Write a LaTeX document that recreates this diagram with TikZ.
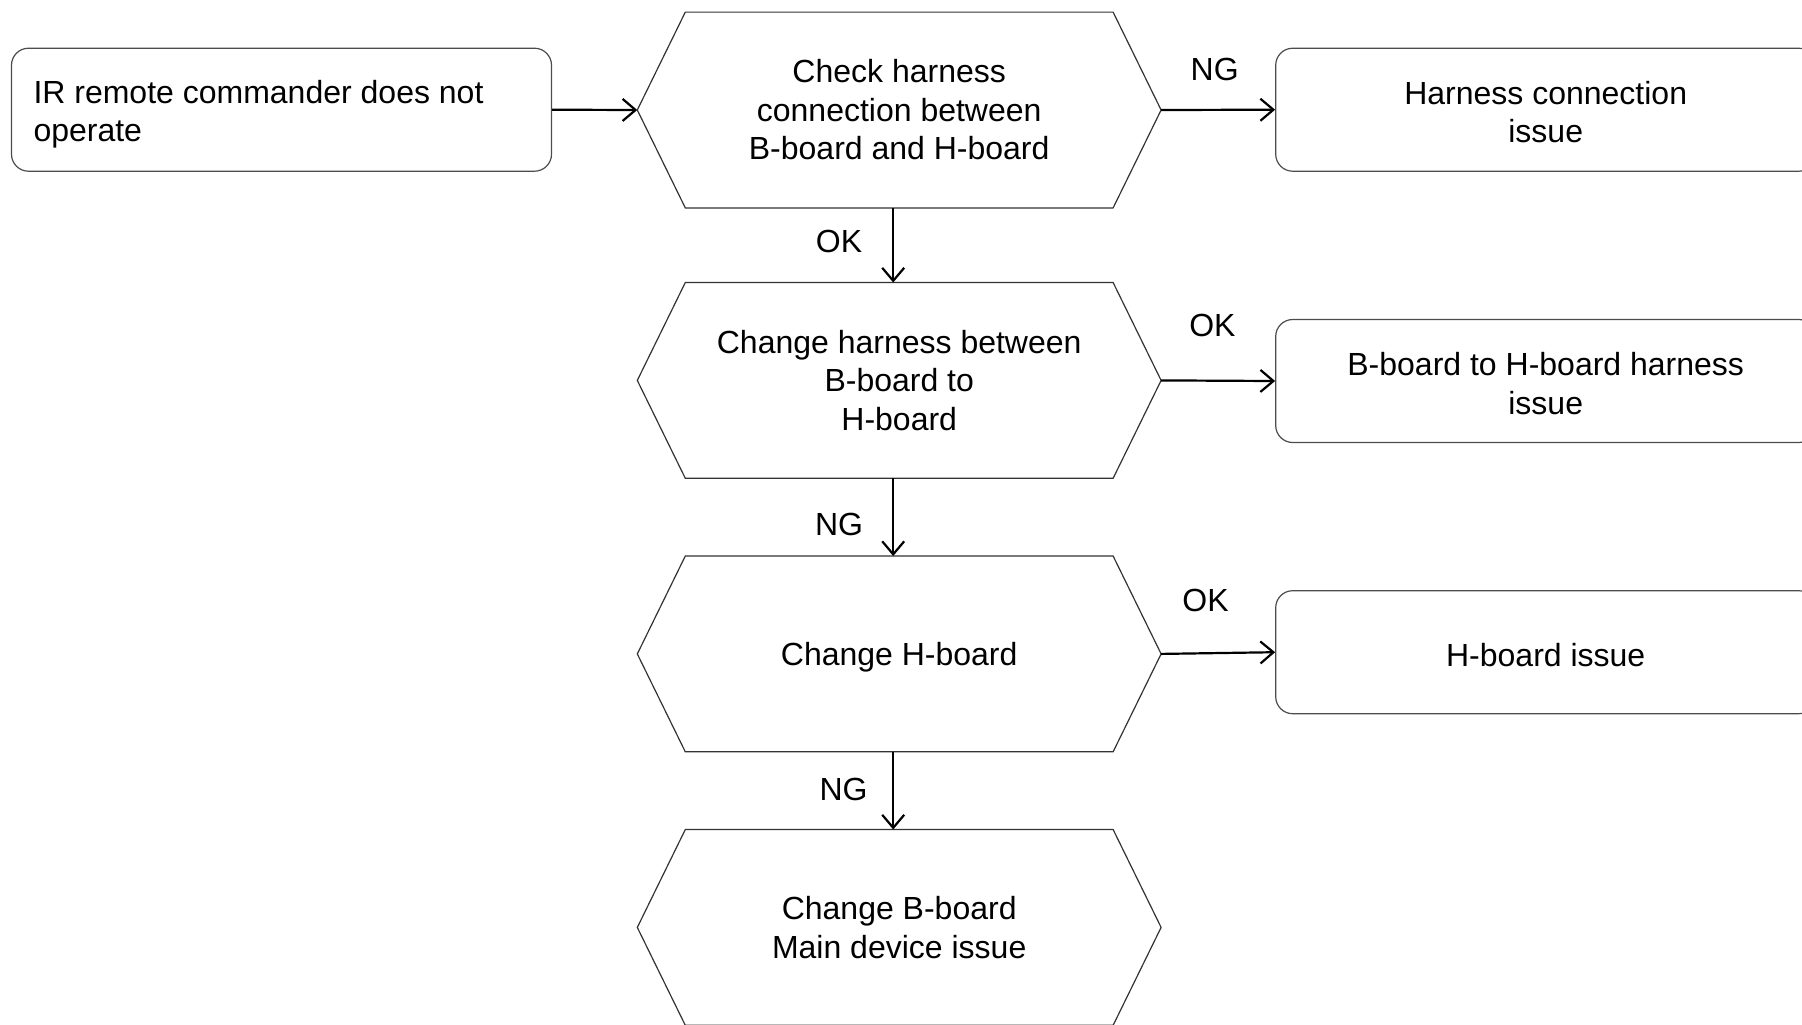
\documentclass[tikz,border=0pt]{standalone}
\usepackage{fontspec}
\setmainfont{Liberation Sans}
\usetikzlibrary{arrows.meta}
\newcommand{\lowerby}[2]{\raisebox{-#1}[\height][\depth]{#2}}
\begin{document}
\begin{tikzpicture}[x=0.5pt,y=-0.5pt,
  txt/.style={font=\fontsize{16pt}{19.25pt}\selectfont},
  rbox/.style={txt, draw=black!70, line width=0.6pt, rounded corners=8.5pt,
    minimum width=270pt, minimum height=61.5pt, inner sep=0pt, align=center},
  hexbox/.style={txt, minimum width=261.5pt, minimum height=97.5pt, inner sep=0pt, align=center,
    append after command={\pgfextra{
      \draw[draw=black!80, line width=0.6pt]
        ([xshift=24pt]\tikzlastnode.north west) -- ([xshift=-24pt]\tikzlastnode.north east)
        -- (\tikzlastnode.east) -- ([xshift=-24pt]\tikzlastnode.south east)
        -- ([xshift=24pt]\tikzlastnode.south west) -- (\tikzlastnode.west) -- cycle;}}},
  conn/.style={line width=1.1pt, -{Straight Barb[length=6.5pt,width=11pt,line width=1.1pt]}},
  lbl/.style={txt, inner sep=0pt}
]
\useasboundingbox (0,0) rectangle (1802,1024);
\clip (0,0) rectangle (1802,1024);

\node[rbox] (start) at (281.5,109.7) {\lowerby{2.2pt}{\parbox{248pt}{\raggedright IR remote commander does not\\operate}}};

\node[hexbox] (h1) at (899.2,110) {Check harness\\connection between\\B-board and H-board};
\node[hexbox] (h2) at (899.2,380.4) {Change harness between\\B-board to\\H-board};
\node[hexbox] (h3) at (899.2,653.9) {\lowerby{1.6pt}{Change H-board}};
\node[hexbox] (h4) at (899.2,927.4) {Change B-board\\Main device issue};

\node[rbox] (r1) at (1545.7,109.7) {\lowerby{1.2pt}{\parbox{270pt}{\centering Harness connection\\issue}}};
\node[rbox] (r2) at (1545.7,381) {\lowerby{1.2pt}{\parbox{270pt}{\centering B-board to H-board harness\\issue}}};
\node[rbox] (r3) at (1545.7,652.2) {\lowerby{1.2pt}{H-board issue}};

\draw[conn] (start.east) -- (h1.west);
\draw[conn] (h1.east) -- (r1.west);
\draw[conn] (h2.east) -- (r2.west);
\draw[conn] (h3.east) -- (r3.west);
\draw[conn] ([xshift=-3pt]h1.south) -- ([xshift=-3pt]h2.north);
\draw[conn] ([xshift=-3pt]h2.south) -- ([xshift=-3pt]h3.north);
\draw[conn] ([xshift=-3pt]h3.south) -- ([xshift=-3pt]h4.north);

\node[lbl] (l1) at (1214.7,69) {NG};
\node[lbl] (l2) at (839,241.3) {OK};
\node[lbl] (l3) at (1212.4,325.2) {OK};
\node[lbl] (l4) at (839,524) {NG};
\node[lbl] (l5) at (1205.5,600) {OK};
\node[lbl] (l6) at (843.5,789.5) {NG};
\end{tikzpicture}
\end{document}
